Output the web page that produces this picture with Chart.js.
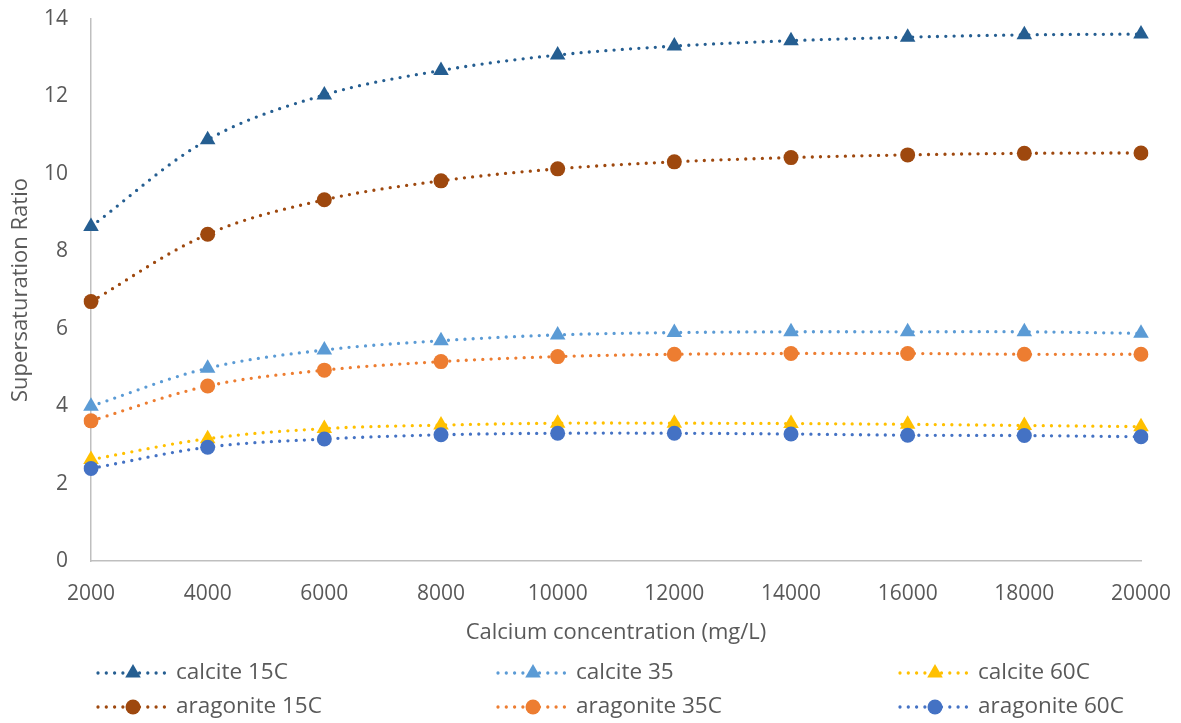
<!DOCTYPE html>
<html lang="en">

<head>
    <meta charset="UTF-8">
    <title>Supersaturation Ratio</title>
    <script src="https://cdn.jsdelivr.net/npm/chart.js"></script>
    <style>
        body {
            margin: 0;
            background: #fff;
            font-family: "Open Sans", sans-serif;
        }

        .wrap {
            width: 1181px;
            height: 723px;
        }
    </style>
</head>

<body>
    <div class="wrap">
        <canvas id="ratioChart"></canvas>
    </div>

    <script>
        // calcium concentration (mg/L)
        var concentrations = [2000, 4000, 6000, 8000, 10000, 12000, 14000, 16000, 18000, 20000];

        // supersaturation ratio per mineral / temperature
        var calcite15 = [8.64, 10.88, 12.04, 12.67, 13.07, 13.30, 13.44, 13.53, 13.59, 13.61];
        var calcite35 = [4.00, 4.98, 5.45, 5.69, 5.84, 5.90, 5.92, 5.92, 5.92, 5.88];
        var calcite60 = [2.62, 3.16, 3.42, 3.51, 3.56, 3.56, 3.55, 3.53, 3.50, 3.47];
        var aragonite15 = [6.70, 8.44, 9.33, 9.82, 10.13, 10.31, 10.42, 10.49, 10.53, 10.54];
        var aragonite35 = [3.62, 4.52, 4.93, 5.15, 5.28, 5.34, 5.36, 5.36, 5.34, 5.34];
        var aragonite60 = [2.39, 2.94, 3.15, 3.26, 3.30, 3.30, 3.28, 3.25, 3.24, 3.21];

        var seriesNames = ['calcite 15C', 'calcite 35', 'calcite 60C', 'aragonite 15C', 'aragonite 35C', 'aragonite 60C'];
        var seriesValues = [calcite15, calcite35, calcite60, aragonite15, aragonite35, aragonite60];
        var seriesColors = ['#255E91', '#5B9BD5', '#FFC000', '#9E480E', '#ED7D31', '#4472C4'];

        var yTicks = [0, 2, 4, 6, 8, 10, 12, 14];

        var textColor = '#595959';
        var axisColor = '#BFBFBF';
        var fontFamily = '"Open Sans", sans-serif';

        function makeDataset(i) {
            var tri = seriesNames[i].indexOf('calcite') === 0;
            return {
                label: seriesNames[i],
                data: seriesValues[i],
                borderColor: seriesColors[i],
                backgroundColor: seriesColors[i],
                borderWidth: 3.3,
                borderDash: [0, 8.3],
                borderCapStyle: 'round',
                tension: 0.35,
                fill: false,
                pointStyle: tri ? 'triangle' : 'circle',
                pointRadius: tri ? 9 : 7.5,
                pointBorderWidth: 0,
                pointBackgroundColor: seriesColors[i],
                // later series sit on top
                order: seriesNames.length - i
            };
        }

        // legend in three columns under the axis title
        var gridLegend = {
            id: 'gridLegend',
            afterDraw: function (chart) {
                var ctx = chart.ctx;
                var colX = [98, 498, 900];
                var rowY = [673, 707];
                ctx.save();
                chart.data.datasets.forEach(function (ds, i) {
                    var x0 = colX[i % 3];
                    var y = rowY[Math.floor(i / 3)];
                    ctx.strokeStyle = ds.borderColor;
                    ctx.lineWidth = ds.borderWidth;
                    ctx.lineCap = 'round';
                    ctx.setLineDash(ds.borderDash);
                    ctx.beginPath();
                    ctx.moveTo(x0, y);
                    ctx.lineTo(x0 + 70, y);
                    ctx.stroke();
                    ctx.setLineDash([]);
                    ctx.fillStyle = ds.pointBackgroundColor;
                    Chart.helpers.drawPoint(ctx, {
                        pointStyle: ds.pointStyle,
                        radius: ds.pointRadius,
                        rotation: 0,
                        borderWidth: 0
                    }, x0 + 35, y);
                    ctx.fillStyle = textColor;
                    ctx.font = '22.5px ' + fontFamily;
                    ctx.textAlign = 'left';
                    ctx.textBaseline = 'middle';
                    ctx.fillText(ds.label, x0 + 78, y);
                });
                ctx.restore();
            }
        };

        var ctx = document.getElementById('ratioChart').getContext('2d');
        var ratioChart = new Chart(ctx, {
            type: 'line',
            data: {
                labels: concentrations,
                datasets: seriesNames.map(function (n, i) { return makeDataset(i); })
            },
            options: {
                responsive: true,
                maintainAspectRatio: false,
                animation: false,
                layout: {
                    padding: { top: 19, right: 40, bottom: 73, left: 0 }
                },
                plugins: {
                    legend: { display: false },
                    tooltip: { enabled: false }
                },
                scales: {
                    x: {
                        offset: false,
                        grid: { display: false, drawTicks: false },
                        border: { display: true, color: axisColor, width: 1.5 },
                        ticks: {
                            color: textColor,
                            font: { family: fontFamily, size: 21 },
                            padding: 20,
                            maxRotation: 0,
                            autoSkip: false
                        },
                        title: {
                            display: true,
                            text: 'Calcium concentration (mg/L)',
                            color: textColor,
                            font: { family: fontFamily, size: 22 },
                            padding: { top: 0, bottom: 4 }
                        },
                        afterFit: function (scale) {
                            scale.height = 89;
                            scale.paddingLeft = 0;
                            scale.paddingRight = 0;
                        }
                    },
                    y: {
                        min: yTicks[0],
                        max: yTicks[yTicks.length - 1],
                        grid: { display: false, drawTicks: false },
                        border: { display: true, color: axisColor, width: 1.5 },
                        afterBuildTicks: function (scale) {
                            scale.ticks = yTicks.map(function (v) { return { value: v }; });
                        },
                        ticks: {
                            color: textColor,
                            font: { family: fontFamily, size: 21 },
                            padding: 23
                        },
                        title: {
                            display: true,
                            text: 'Supersaturation Ratio',
                            color: textColor,
                            font: { family: fontFamily, size: 22 },
                            padding: { top: 8, bottom: 0 }
                        },
                        afterFit: function (scale) {
                            scale.width = 91;
                            scale.paddingTop = 0;
                            scale.paddingBottom = 0;
                        }
                    }
                }
            },
            plugins: [gridLegend]
        });
    </script>
</body>

</html>
